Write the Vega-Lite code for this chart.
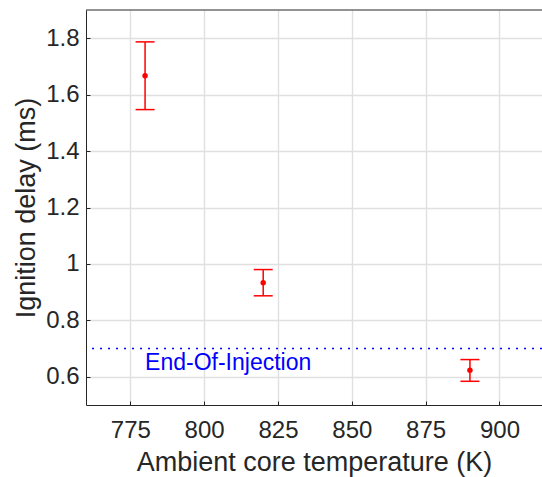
{
  "$schema": "https://vega.github.io/schema/vega-lite/v6.json",
  "width": 456,
  "height": 395,
  "autosize": {"type": "none"},
  "padding": {"left": 86, "top": 10, "right": 0, "bottom": 72},
  "background": "white",
  "config": {
    "font": "Liberation Sans",
    "view": {"stroke": null},
    "axis": {
      "domainColor": "#262626", "domainWidth": 1,
      "tickColor": "#262626", "tickSize": -4, "tickWidth": 1,
      "gridColor": "#e0e0e0", "gridWidth": 1.4,
      "labelColor": "#262626", "labelFontSize": 24, "labelFont": "Liberation Sans",
      "titleColor": "#262626", "titleFontSize": 27, "titleFontWeight": "normal", "titleFont": "Liberation Sans",
      "labelOverlap": false
    },
    "axisX": {"labelBaseline": "alphabetic", "labelPadding": 36.4, "titlePadding": 7},
    "axisY": {"labelPadding": 11, "titlePadding": 5}
  },
  "data": {"values": [
    {"T": 780, "delay": 1.667, "lo": 1.547, "hi": 1.787},
    {"T": 820, "delay": 0.933, "lo": 0.887, "hi": 0.980},
    {"T": 890, "delay": 0.623, "lo": 0.584, "hi": 0.661}
  ]},
  "layer": [
    {
      "mark": {"type": "rule", "color": "#ff0000", "strokeWidth": 1.5},
      "encoding": {
        "x": {"field": "T", "type": "quantitative", "title": "Ambient core temperature (K)",
              "scale": {"domain": [760, 914.4], "nice": false, "zero": false},
              "axis": {"values": [775, 800, 825, 850, 875, 900], "format": "d"}},
        "y": {"field": "lo", "type": "quantitative", "title": "Ignition delay (ms)",
              "scale": {"domain": [0.5, 1.9], "nice": false, "zero": false},
              "axis": {"values": [0.6, 0.8, 1.0, 1.2, 1.4, 1.6, 1.8], "format": ".1~f"}},
        "y2": {"field": "hi"}
      }
    },
    {
      "mark": {"type": "tick", "orient": "horizontal", "color": "#ff0000", "size": 19, "thickness": 1.5, "opacity": 1},
      "encoding": {
        "x": {"field": "T", "type": "quantitative", "title": "Ambient core temperature (K)"},
        "y": {"field": "lo", "type": "quantitative", "title": "Ignition delay (ms)"}
      }
    },
    {
      "mark": {"type": "tick", "orient": "horizontal", "color": "#ff0000", "size": 19, "thickness": 1.5, "opacity": 1},
      "encoding": {
        "x": {"field": "T", "type": "quantitative", "title": "Ambient core temperature (K)"},
        "y": {"field": "hi", "type": "quantitative", "title": "Ignition delay (ms)"}
      }
    },
    {
      "mark": {"type": "circle", "color": "#ff0000", "size": 30, "opacity": 1},
      "encoding": {
        "x": {"field": "T", "type": "quantitative", "title": "Ambient core temperature (K)"},
        "y": {"field": "delay", "type": "quantitative", "title": "Ignition delay (ms)"}
      }
    },
    {
      "data": {"values": [{"eoi": 0.7}]},
      "mark": {"type": "rule", "color": "#0000ff", "strokeDash": [2, 6], "strokeWidth": 1.5},
      "encoding": {
        "y": {"field": "eoi", "type": "quantitative", "title": "Ignition delay (ms)"}
      }
    },
    {
      "data": {"values": [{"top": 1.9}]},
      "mark": {"type": "rule", "color": "#262626", "strokeWidth": 1},
      "encoding": {
        "y": {"field": "top", "type": "quantitative", "title": "Ignition delay (ms)"}
      }
    },
    {
      "data": {"values": [{"tx": 780, "ty": 0.65, "label": "End-Of-Injection"}]},
      "mark": {"type": "text", "color": "#0000ff", "fontSize": 23, "align": "left", "baseline": "middle", "font": "Liberation Sans"},
      "encoding": {
        "x": {"field": "tx", "type": "quantitative", "title": "Ambient core temperature (K)"},
        "y": {"field": "ty", "type": "quantitative", "title": "Ignition delay (ms)"},
        "text": {"field": "label"}
      }
    }
  ]
}
